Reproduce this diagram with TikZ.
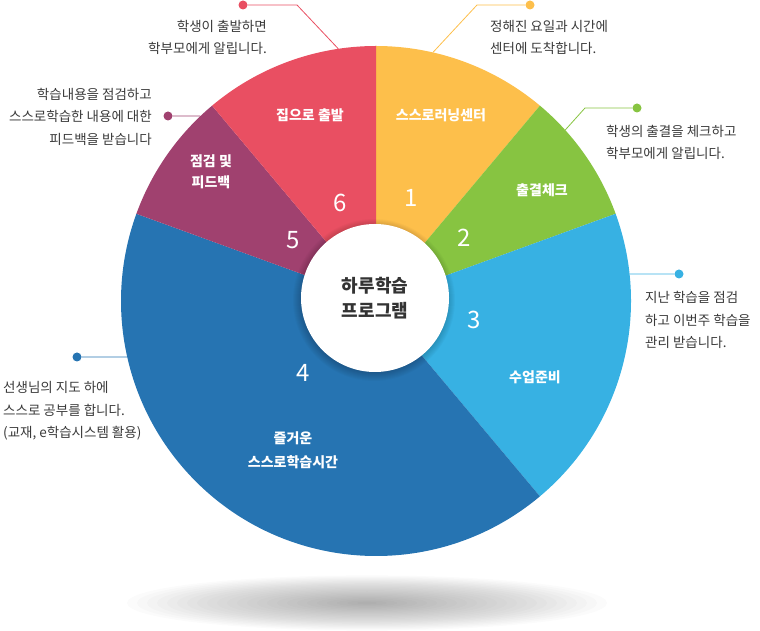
\documentclass[tikz,border=0pt]{standalone}
\usepackage{fontspec}
\setmainfont{Noto Sans CJK KR}
\usetikzlibrary{calc}
\definecolor{slice1}{HTML}{FDBF4B}
\definecolor{slice2}{HTML}{87C441}
\definecolor{slice3}{HTML}{37B1E3}
\definecolor{slice4}{HTML}{2674B2}
\definecolor{slice5}{HTML}{A0416F}
\definecolor{slice6}{HTML}{E94F62}
\definecolor{notegray}{HTML}{3A3A3A}
\definecolor{hubgray}{HTML}{333333}
\tikzset{
  slice/.style={fill=#1},
  lead/.style={draw=#1, line width=0.8pt},
  leaddot/.style={circle, fill=#1, inner sep=0pt, minimum size=9pt},
  note/.style={font=\fontsize{13.5}{22.5}\selectfont, text=notegray, inner sep=0pt},
  tag/.style={font=\fontsize{14}{21}\selectfont\bfseries, text=white, align=center, inner sep=0pt},
  num/.style={font=\fontsize{24}{24}\selectfont, text=white, inner sep=0pt},
  hub/.style={circle, fill=white, minimum size=148pt, inner sep=0pt, align=center,
              font=\fontsize{18}{25}\selectfont\bfseries, text=hubgray},
}

\begin{document}
\begin{tikzpicture}[x=1pt, y=1pt]
\useasboundingbox (0,0) rectangle (760,631);
\coordinate (O) at (376,330);
\coordinate (hubc) at (375,333);
\coordinate (floor) at (367,28);

\foreach \k in {1,...,24}
  \fill[black, opacity=0.017] (floor) ellipse ({10*\k} and {1.15*\k});

\fill[slice=slice1] (O) -- ++(90:255) arc (90:50:255) -- cycle;
\fill[slice=slice2] (O) -- ++(50:255) arc (50:20:255) -- cycle;
\fill[slice=slice3] (O) -- ++(20:255) arc (20:-50:255) -- cycle;
\fill[slice=slice4] (O) -- ++(-50:255) arc (-50:-200:255) -- cycle;
\fill[slice=slice5] (O) -- ++(160:255) arc (160:130:255) -- cycle;
\fill[slice=slice6] (O) -- ++(130:255) arc (130:90:255) -- cycle;

\node[tag] (s1) at (441,516) {스스로러닝센터};
\node[tag] (s2) at (542,441) {출결체크};
\node[tag] (s3) at (535,254) {수업준비};
\node[tag, font=\fontsize{14}{24}\selectfont\bfseries] (s4) at (293,181) {즐거운\\스스로학습시간};
\node[tag] (s5) at (211,459) {점검 및\\피드백};
\node[tag] (s6) at (310,516) {집으로 출발};

\node[num] (n1) at (411,433) {1};
\node[num] (n2) at (464,393) {2};
\node[num] (n3) at (474,311) {3};
\node[num] (n4) at (303,258) {4};
\node[num] (n5) at (293,391) {5};
\node[num] (n6) at (340,428) {6};

\foreach \k in {1,...,9}
  \fill[black, opacity=0.022] ($(hubc)+(-1,-2)$) circle (72+\k);
\node[hub] (hub) at (hubc) {하루학습\\프로그램};

% callouts
\node[leaddot=slice6] (d6) at (243,626) {};
\coordinate (k6) at (297,626);
\coordinate (e6) at ($(O)+(98.5:255)$);
\draw[lead=slice6] (d6) -- (k6) -- (e6);
\node[note, align=right, anchor=east] (t6) at (267,593.5) {학생이 출발하면\\학부모에게 알립니다.};

\node[leaddot=slice1] (d1) at (530,626) {};
\coordinate (k1) at (477,626);
\coordinate (e1) at ($(O)+(77.1:255)$);
\draw[lead=slice1] (d1) -- (k1) -- (e1);
\node[note, align=left, anchor=west] (t1) at (490,593.5) {정해진 요일과 시간에\\센터에 도착합니다.};

\node[leaddot=slice5] (d5) at (168,515) {};
\coordinate (e5) at ($(O)+(133.5:255)$);
\draw[lead=slice5] (d5) -- (e5);
\node[note, align=right, anchor=east] (t5) at (152,514.5) {학습내용을 점검하고\\스스로학습한 내용에 대한\\피드백을 받습니다};

\node[leaddot=slice2] (d2) at (637,523) {};
\coordinate (k2) at (585,523);
\coordinate (e2) at ($(O)+(42.1:255)$);
\draw[lead=slice2] (d2) -- (k2) -- (e2);
\node[note, align=left, anchor=west] (t2) at (606,488.5) {학생의 출결을 체크하고\\학부모에게 알립니다.};

\node[leaddot=slice3] (d3) at (679,357) {};
\coordinate (e3) at ($(O)+(6.1:255)$);
\draw[lead=slice3] (d3) -- (e3);
\node[note, align=left, anchor=west] (t3) at (645,311) {지난 학습을 점검\\하고 이번주 학습을\\관리 받습니다.};

\node[leaddot=slice4] (d4) at (77,274) {};
\coordinate (e4) at ($(O)+(192.7:255)$);
\draw[lead=slice4] (d4) -- (e4);
\node[note, align=left, anchor=west] (t4) at (3,220) {선생님의 지도 하에\\스스로 공부를 합니다.\\(교재, e학습시스템 활용)};
\end{tikzpicture}
\end{document}
